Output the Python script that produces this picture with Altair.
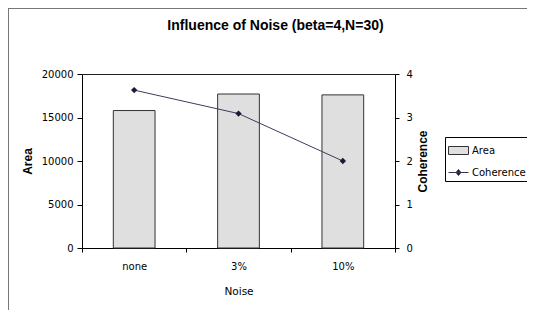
import altair as alt
import pandas as pd

# ---- data ----
noise = ["none", "3%", "10%"]
area = [15800, 17700, 17600]
coherence = [3.63, 3.09, 2.0]
series_names = ["Area", "Coherence"]
area_ticks = [0, 5000, 10000, 15000, 20000]
coh_ticks = [0, 1, 2, 3, 4]

df = pd.DataFrame({"noise": noise, "area": area, "coherence": coherence})
legend_df = pd.DataFrame({"series": series_names})
frame_df = pd.DataFrame({"k": [0]})

TICK_FONT = "DejaVu Sans"
TITLE_FONT = "Liberation Sans"

x_enc = alt.X(
    "noise:N",
    sort=noise,
    scale=alt.Scale(paddingInner=0, paddingOuter=0),
    axis=alt.Axis(
        title="Noise",
        labelAngle=0,
        tickBand="extent",
        tickSize=4,
        labelPadding=9,
        titlePadding=15,
        labelFont=TICK_FONT,
        labelFontSize=10,
        titleFont=TICK_FONT,
        titleFontSize=10.5,
        titleFontWeight="normal",
        domainColor="black",
        tickColor="black",
        labelColor="black",
        titleColor="black",
    ),
)

bars = alt.Chart(df).mark_bar(
    width=alt.RelativeBandSize(0.4), fill="#dfdfdf", stroke="#333333", strokeWidth=1
).encode(
    x=x_enc,
    y=alt.Y(
        "area:Q",
        scale=alt.Scale(domain=[0, 20000], nice=False),
        axis=alt.Axis(
            title="Area",
            values=area_ticks,
            format="d",
            tickSize=5,
            labelPadding=4,
            titlePadding=7,
            labelFont=TICK_FONT,
            labelFontSize=10,
            titleFont=TITLE_FONT,
            titleFontSize=12,
            titleFontWeight="bold",
            domainColor="black",
            tickColor="black",
            labelColor="black",
            titleColor="black",
            grid=True,
            gridColor="#222222",
            gridWidth=1,
            gridOpacity={"condition": {"test": "datum.value === 20000", "value": 1}, "value": 0},
        ),
    ),
)

coh_axis = alt.Axis(
    title="Coherence",
    orient="right",
    values=coh_ticks,
    format="d",
    tickSize=4,
    labelPadding=7,
    titlePadding=5,
    titleAngle=270,
    titleBaseline="top",
    labelFont=TICK_FONT,
    labelFontSize=10,
    titleFont=TITLE_FONT,
    titleFontSize=12,
    titleFontWeight="bold",
    domainColor="black",
    tickColor="black",
    labelColor="black",
    titleColor="black",
    grid=False,
)
y_coh = alt.Y("coherence:Q", scale=alt.Scale(domain=[0, 4], nice=False), axis=coh_axis)

line = alt.Chart(df).mark_line(color="#423a5c", strokeWidth=1).encode(x=x_enc, y=y_coh)
pts = alt.Chart(df).mark_point(
    shape="diamond", filled=True, color="#22173a", size=40, opacity=1
).encode(x=x_enc, y=y_coh)

coh_layer = alt.layer(line, pts)

# legend carrier (no visible marks)
rect_path = "M-1,-0.4H1V0.4H-1Z"
line_diamond_path = "M-1,0H1M0,-0.3L0.24,0L0,0.3L-0.24,0Z"
leg = alt.Legend(
    title=None,
    orient="none",
    legendX=363,
    legendY=63,
    strokeColor="black",
    fillColor="white",
    padding=3,
    symbolSize=400,
    symbolStrokeWidth=1,
    symbolOpacity=1,
    labelFont=TICK_FONT,
    labelFontSize=10,
    labelColor="black",
    labelOffset=3,
    rowPadding=5,
)
legend_layer = alt.Chart(legend_df).transform_filter("false").mark_point(
    filled=True, opacity=1, strokeWidth=1
).encode(
    fill=alt.Fill(
        "series:N",
        scale=alt.Scale(domain=series_names, range=["#dfdfdf", "#22173a"]),
        legend=leg,
    ),
    stroke=alt.Stroke(
        "series:N",
        scale=alt.Scale(domain=series_names, range=["#333333", "#3a3050"]),
        legend=leg,
    ),
    shape=alt.Shape(
        "series:N",
        scale=alt.Scale(domain=series_names, range=[rect_path, line_diamond_path]),
        legend=leg,
    ),
)

frame_v = alt.Chart(frame_df).mark_rule(color="#777777", strokeWidth=2).encode(
    x=alt.value(-74), y=alt.value(-66), y2=alt.value(260)
)
frame_h = alt.Chart(frame_df).mark_rule(color="#777777", strokeWidth=2).encode(
    x=alt.value(-74), x2=alt.value(460), y=alt.value(-66)
)

chart = (
    alt.layer(frame_v, frame_h, bars, coh_layer, legend_layer)
    .resolve_scale(y="independent")
    .properties(
        width=313,
        height=174,
        title=alt.TitleParams(
            "Influence of Noise (beta=4,N=30)",
            font=TITLE_FONT,
            fontSize=14,
            fontWeight="bold",
            color="black",
            anchor="middle",
            frame="group",
            dx=37,
            dy=26,
            offset=0,
        ),
        autosize=alt.AutoSizeParams(type="none"),
        padding={"left": 74, "top": 66, "right": 132, "bottom": 62},
    )
    .configure_view(stroke=None)
    .configure(background="white")
)

chart.save("out.html", embed_options={"renderer": "svg", "actions": False})
